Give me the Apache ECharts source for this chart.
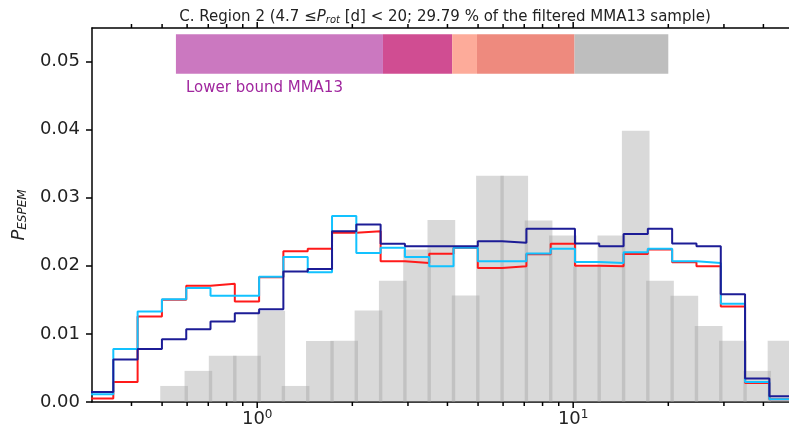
<!DOCTYPE html>
<html>
<head>
<meta charset="utf-8">
<script src="https://cdn.jsdelivr.net/npm/echarts@6/dist/echarts.min.js"></script>
<style>
  html, body { margin: 0; padding: 0; background: #fff; }
  #chart { width: 789px; height: 430px; }
</style>
</head>
<body>
<div id="chart"></div>
<script>
// bin edges (period, d) shared by the step lines and the grey histogram
const binEdges = [0.2936, 0.3504, 0.4183, 0.4994, 0.5962, 0.7115, 0.8494, 1.014, 1.210, 1.445,
  1.725, 2.059, 2.458, 2.934, 3.502, 4.181, 4.991, 5.957, 7.111, 8.489,
  10.13, 12.09, 14.44, 17.23, 20.57, 24.56, 29.32, 34.99, 41.77, 49.87];
// grey histogram starts at the 4th edge
const greyHist = [0.00236, 0.00457, 0.00678, 0.00678, 0.01338, 0.00236, 0.00895, 0.009, 0.01342, 0.0178,
  0.02237, 0.0267, 0.01563, 0.0332, 0.0332, 0.02665, 0.02444, 0.0199, 0.02444, 0.0398,
  0.0178, 0.0156, 0.01117, 0.009, 0.00457, 0.009];
const redStep = [0.0005, 0.00295, 0.01254, 0.0150, 0.01707, 0.01736, 0.01475, 0.0183, 0.02213, 0.02248,
  0.02484, 0.02507, 0.02065, 0.02041, 0.02178, 0.0226, 0.01967, 0.01991, 0.0217, 0.02322,
  0.02001, 0.01991, 0.02174, 0.0224, 0.0205, 0.01991, 0.01401, 0.0028, 0.0004];
const cyanStep = [0.00114, 0.00777, 0.01328, 0.0151, 0.01672, 0.01559, 0.01559, 0.0184, 0.0213, 0.01903,
  0.02729, 0.02189, 0.02263, 0.0213, 0.01991, 0.02263, 0.02065, 0.02065, 0.0218, 0.02248,
  0.02056, 0.02041, 0.0220, 0.02248, 0.02065, 0.02041, 0.01441, 0.00295, 0.0004];
const navyStep = [0.00148, 0.00625, 0.00777, 0.0092, 0.01068, 0.0118, 0.01304, 0.01363, 0.01917, 0.01953,
  0.02507, 0.02606, 0.02322, 0.02286, 0.02286, 0.02286, 0.0236, 0.02336, 0.02543, 0.02543,
  0.02326, 0.02286, 0.02466, 0.02543, 0.02326, 0.02286, 0.01581, 0.00345, 0.00084];
// coloured period ranges at the top
const bandEdges = [0.553, 2.5, 4.14, 4.96, 10.1, 20.0];
const bandRange = [0.0482, 0.0540];
const bandColors = ['#cb78c0', '#d04d92', '#fdab9a', '#ee8a7e', '#bebebe'];

const majorTicks = [1, 10];
const xTicks = [0.4, 0.5, 0.6, 0.7, 0.8, 0.9, 1, 2, 3, 4, 5, 6, 7, 8, 9, 10, 20, 30, 40];
const yTicks = [0, 0.01, 0.02, 0.03, 0.04, 0.05];

const FONT = 'DejaVu Sans';
const X_MIN = 0.3, X_MAX = 48.2, Y_MAX = 0.0549;

const stepData = vals => binEdges.map((e, i) => [e, vals[Math.min(i, vals.length - 1)]]);
const barData = greyHist.map((v, i) => [binEdges[i + 3], binEdges[i + 4], v]);
const bandData = bandColors.map((c, i) => [bandEdges[i], bandEdges[i + 1]]);

function xAxisBase(pos) {
  return {
    type: 'log', logBase: 10, min: X_MIN, max: X_MAX, position: pos,
    axisLine: { show: true, onZero: false, lineStyle: { color: '#000', width: 1.5 } },
    axisTick: { show: false },
    axisLabel: { show: false },
    splitLine: { show: false }
  };
}

const bottomAxis = xAxisBase('bottom');
bottomAxis.axisLabel = {
  show: true, customValues: majorTicks, margin: 7,
  formatter: v => '10{sup|' + Math.round(Math.log10(v)) + '}',
  rich: {
    sup: { fontSize: 12, fontFamily: FONT, color: '#222', verticalAlign: 'top', padding: [0, 0, 8, 0] }
  },
  fontSize: 18, fontFamily: FONT, color: '#222'
};

// x ticks (bottom pointing down, top pointing up), placed through the axis scale
function renderTick(params, api) {
  const v = api.value(0);
  const b = api.coord([v, 0]);
  const t = api.coord([v, Y_MAX]);
  const len = majorTicks.indexOf(v) >= 0 ? 6 : 4;
  const st = { stroke: '#000', lineWidth: 1.5 };
  return {
    type: 'group',
    children: [
      { type: 'line', shape: { x1: b[0], y1: b[1], x2: b[0], y2: b[1] + len }, style: st },
      { type: 'line', shape: { x1: t[0], y1: t[1], x2: t[0], y2: t[1] - len }, style: st }
    ]
  };
}

const chart = echarts.init(document.getElementById('chart'));
chart.setOption({
  animation: false,
  backgroundColor: '#fff',
  title: {
    text: 'C. Region 2 (4.7 \u2264{i|P}{sub|rot} [d] < 20; 29.79 % of the filtered MMA13 sample)',
    left: 440, top: 4, textAlign: 'center',
    textStyle: {
      fontSize: 15, fontWeight: 'normal', fontFamily: FONT, color: '#222',
      rich: {
        i: { fontSize: 15, fontStyle: 'italic', fontFamily: FONT, color: '#222' },
        sub: { fontSize: 10, fontStyle: 'italic', fontFamily: FONT, color: '#222', verticalAlign: 'bottom', padding: [6, 0, 0, 0] }
      }
    }
  },
  grid: { left: 92, right: 0, top: 28, bottom: 28 },
  xAxis: [bottomAxis, xAxisBase('top')],
  yAxis: {
    type: 'value', min: 0, max: Y_MAX,
    name: '{i|P}{sub|ESPEM}',
    nameLocation: 'middle', nameRotate: 90, nameGap: 56,
    nameTextStyle: {
      rich: {
        i: { fontSize: 18, fontStyle: 'italic', fontFamily: FONT, color: '#222' },
        sub: { fontSize: 12, fontStyle: 'italic', fontFamily: FONT, color: '#222', padding: [8, 0, 0, 0] }
      }
    },
    axisLine: { show: true, lineStyle: { color: '#000', width: 1.5 } },
    axisTick: { show: true, length: 6, customValues: yTicks, lineStyle: { color: '#000', width: 1.5 } },
    axisLabel: { customValues: yTicks, formatter: v => v.toFixed(2), fontSize: 18, fontFamily: FONT, color: '#222', margin: 12 },
    splitLine: { show: false }
  },
  graphic: [{
    type: 'text', left: 186, top: 81,
    style: { text: 'Lower bound MMA13', fontSize: 15, fontFamily: FONT, fill: '#a0269e' }
  }],
  series: [
    {
      type: 'custom', name: 'hist', z: 1,
      data: barData,
      encode: { x: [0, 1], y: 2 },
      renderItem: (params, api) => {
        const p0 = api.coord([api.value(0), api.value(2)]);
        const p1 = api.coord([api.value(1), 0]);
        const rect = echarts.graphic.clipRectByRect(
          { x: p0[0] - 1.7, y: p0[1], width: p1[0] - p0[0] + 3.4, height: p1[1] - p0[1] },
          params.coordSys);
        return rect && { type: 'rect', shape: rect, style: { fill: 'rgba(160,160,160,0.4)' } };
      }
    },
    {
      type: 'custom', name: 'bands', z: 1,
      data: bandData,
      encode: { x: [0, 1] },
      renderItem: (params, api) => {
        const p0 = api.coord([api.value(0), bandRange[1]]);
        const p1 = api.coord([api.value(1), bandRange[0]]);
        return { type: 'rect', shape: { x: p0[0], y: p0[1], width: p1[0] - p0[0], height: p1[1] - p0[1] },
          style: { fill: bandColors[params.dataIndex] } };
      }
    },
    {
      type: 'custom', name: 'xticks', z: 6, clip: false, silent: true,
      data: xTicks.map(v => [v]),
      encode: { x: 0 },
      renderItem: renderTick
    },
    { type: 'line', step: 'end', data: stepData(redStep), showSymbol: false, clip: true, z: 3,
      lineStyle: { color: '#ff1a1a', width: 2 } },
    { type: 'line', step: 'end', data: stepData(cyanStep), showSymbol: false, clip: true, z: 4,
      lineStyle: { color: '#12c2ff', width: 2 } },
    { type: 'line', step: 'end', data: stepData(navyStep), showSymbol: false, clip: true, z: 5,
      lineStyle: { color: '#1c1c96', width: 2 } }
  ]
});
</script>
</body>
</html>
